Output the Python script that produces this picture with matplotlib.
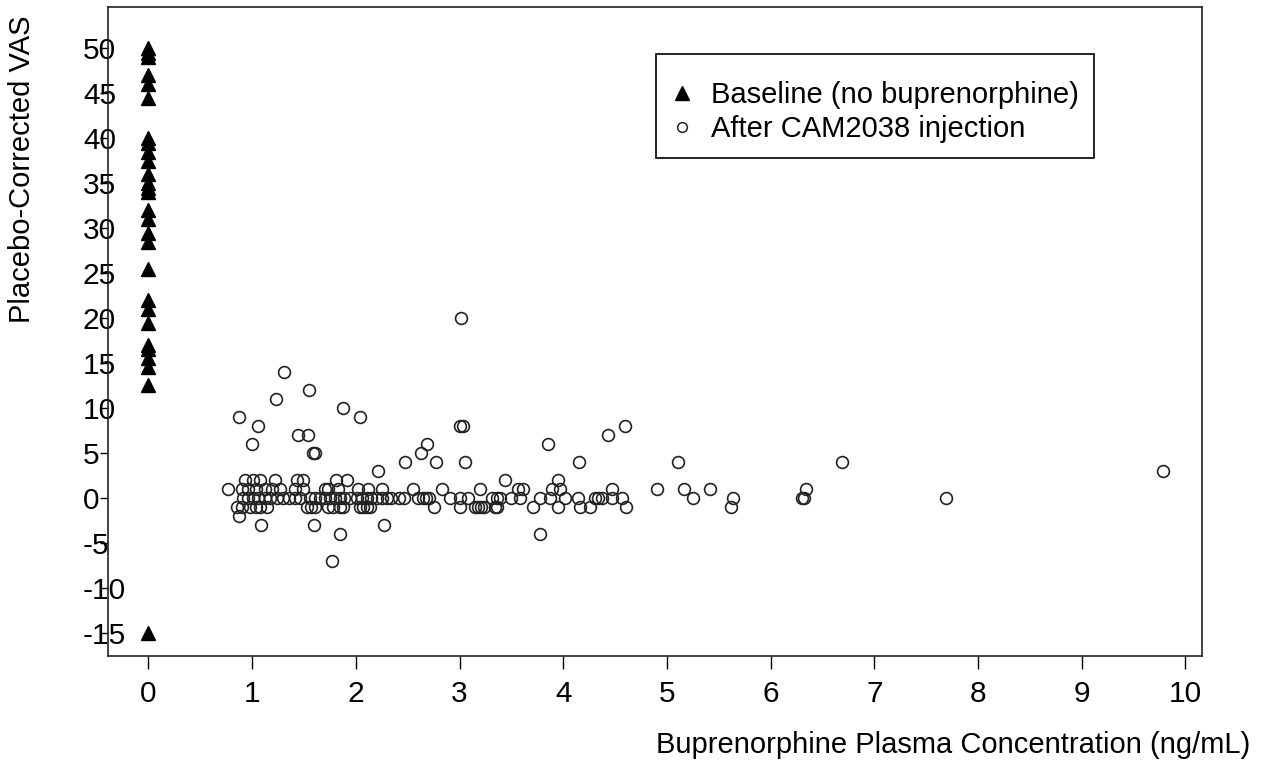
import numpy as np
import matplotlib
matplotlib.use("Agg")
import matplotlib.pyplot as plt
from matplotlib.lines import Line2D

plt.rcParams['font.family'] = ['Liberation Sans', 'DejaVu Sans']
plt.rcParams['axes.unicode_minus'] = False

# Baseline VAS (no buprenorphine), all at concentration 0
base_vas = [50, 49.5, 49, 47, 46, 44.5, 40, 39.5, 38.5, 37.5, 36, 35, 34.5, 34,
            32, 31, 29.5, 28.5, 25.5, 22, 21, 19.5, 17, 16.5, 15.5, 14.5, 12.5, -15]
base_conc = [0] * len(base_vas)

# After CAM2038 injection: scattered points
out_conc = [0.87, 1.0, 1.06, 1.23, 1.31, 1.44, 1.54, 1.55, 1.59, 1.61, 1.88, 2.04,
            2.21, 2.47, 2.63, 2.69, 2.77, 3.0, 3.03, 3.01, 3.05, 3.44, 3.85, 3.95,
            4.15, 4.43, 4.6, 5.11, 6.69, 9.78,
            0.87, 1.09, 1.60, 1.85, 1.77, 2.27, 3.78]
out_vas = [9, 6, 8, 11, 14, 7, 7, 12, 5, 5, 10, 9,
           3, 4, 5, 6, 4, 8, 8, 20, 4, 2, 6, 2,
           4, 7, 8, 4, 4, 3,
           -2, -3, -3, -4, -7, -3, -4]

# rows of points at +2, +1, 0, -1
row2_conc = [0.93, 1.01, 1.08, 1.22, 1.43, 1.49, 1.81, 1.91]
row1_conc = [0.77, 0.90, 0.96, 1.04, 1.12, 1.19, 1.27, 1.41, 1.49, 1.70, 1.73, 1.83,
             2.02, 2.12, 2.25, 2.55, 2.83, 3.20, 3.56, 3.61, 3.89, 3.97, 4.47, 4.90,
             5.16, 5.42, 6.34]
row0_conc = [0.91, 0.96, 1.01, 1.06, 1.12, 1.17, 1.24, 1.30, 1.36, 1.41, 1.46, 1.56,
             1.61, 1.65, 1.70, 1.75, 1.80, 1.85, 1.89, 1.94, 2.01, 2.06, 2.11, 2.15,
             2.20, 2.25, 2.30, 2.34, 2.42, 2.46, 2.60, 2.65, 2.68, 2.71, 2.91, 3.0,
             3.08, 3.31, 3.36, 3.39, 3.50, 3.58, 3.78, 3.87, 4.02, 4.14, 4.31, 4.34,
             4.37, 4.47, 4.57, 5.25, 5.64, 6.30, 6.32, 7.69]
rowm1_conc = [0.85, 0.90, 0.98, 1.04, 1.08, 1.14, 1.53, 1.57, 1.61, 1.73, 1.78, 1.85,
              1.88, 2.04, 2.07, 2.11, 2.14, 2.75, 3.0, 3.15, 3.18, 3.21, 3.24, 3.34,
              3.36, 3.71, 3.95, 4.16, 4.26, 4.61, 5.62]

cam_conc = out_conc + row2_conc + row1_conc + row0_conc + rowm1_conc
cam_vas = (out_vas + [2] * len(row2_conc) + [1] * len(row1_conc)
           + [0] * len(row0_conc) + [-1] * len(rowm1_conc))

x_ticks = list(range(0, 11))
y_ticks = list(range(-15, 51, 5))

fig = plt.figure(figsize=(12.67, 7.66), dpi=100)
ax = fig.add_axes([108 / 1267, 1 - 656 / 766, (1202 - 108) / 1267, (656 - 7) / 766])

ax.plot(base_conc, base_vas, linestyle='none', marker='^', ms=10, color='black')
ax.plot(cam_conc, cam_vas, linestyle='none', marker='o', ms=8.5,
        markerfacecolor='none', markeredgecolor='#222222', mew=1.2)

ax.set_xlim(-0.39, 10.16)
ax.set_ylim(-17.6, 54.6)
ax.set_xticks(x_ticks)
ax.set_yticks(y_ticks)
ax.tick_params(axis='x', direction='out', length=9, width=1, pad=8, labelsize=21.5)
ax.tick_params(axis='y', direction='out', length=6, width=1, pad=12, labelsize=21.5)
for lab in ax.get_yticklabels():
    lab.set_horizontalalignment('left')
for s in ax.spines.values():
    s.set_linewidth(1.2)
    s.set_color('#222222')

fig.text(22 / 1267, 1 - 169 / 766, 'Placebo-Corrected VAS', rotation=90,
         ha='center', va='center', fontsize=21)
fig.text(1250 / 1267, 1 - 745 / 766, 'Buprenorphine Plasma Concentration (ng/mL)',
         ha='right', va='center', fontsize=21)

handles = [Line2D([], [], linestyle='none', marker='^', ms=10, color='black'),
           Line2D([], [], linestyle='none', marker='o', ms=7, markerfacecolor='none',
                  markeredgecolor='#222222', mew=1.1)]
leg = ax.legend(handles, ['Baseline (no buprenorphine)', 'After CAM2038 injection'],
                loc='upper left', bbox_to_anchor=(656 / 1267, 1 - 54 / 766),
                bbox_transform=fig.transFigure, borderaxespad=0, fontsize=21,
                frameon=True, fancybox=False, edgecolor='black', framealpha=1,
                borderpad=0.5, handlelength=0.8, handletextpad=0.6, labelspacing=0.2,
                title=' ', title_fontsize=6)
leg.get_frame().set_linewidth(1.2)

fig.savefig('out.png', dpi=100)
